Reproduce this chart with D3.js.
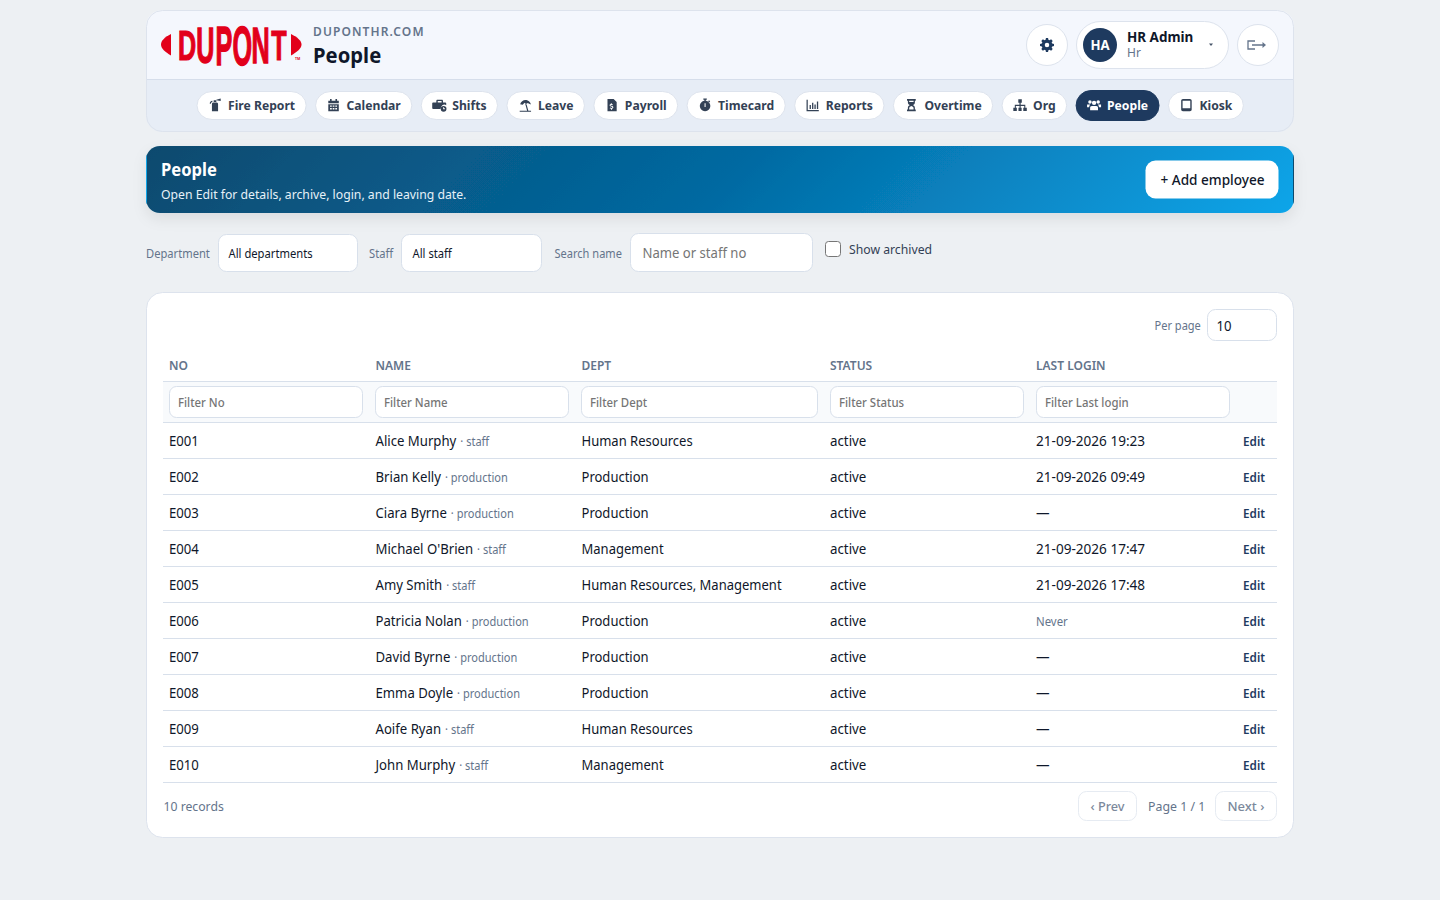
<!DOCTYPE html>
<html>
<head>
<meta charset="utf-8">
<title>People</title>
<script src="https://d3js.org/d3.v7.min.js"></script>
<style>
  html, body { margin: 0; padding: 0; background: #edf0f3; overflow: hidden; }
  svg { display: block; font-family: "Noto Sans", sans-serif; }
  text { white-space: pre; }
</style>
</head>
<body>
<svg id="page" width="1440" height="900"></svg>
<script>
const navLabels = ["Fire Report", "Calendar", "Shifts", "Leave", "Payroll", "Timecard", "Reports", "Overtime", "Org", "People", "Kiosk"];
const navActive = "People";

const columns = ["NO", "NAME", "DEPT", "STATUS", "LAST LOGIN"];
const filterLabels = ["Filter No", "Filter Name", "Filter Dept", "Filter Status", "Filter Last login"];

const empNo = ["E001", "E002", "E003", "E004", "E005", "E006", "E007", "E008", "E009", "E010"];
const empName = ["Alice Murphy", "Brian Kelly", "Ciara Byrne", "Michael O'Brien", "Amy Smith", "Patricia Nolan", "David Byrne", "Emma Doyle", "Aoife Ryan", "John Murphy"];
const empRole = ["staff", "production", "production", "staff", "staff", "production", "production", "production", "staff", "staff"];
const empDept = ["Human Resources", "Production", "Production", "Management", "Human Resources, Management", "Production", "Production", "Production", "Human Resources", "Management"];
const empStatus = ["active", "active", "active", "active", "active", "active", "active", "active", "active", "active"];
const empLogin = ["21-09-2026 19:23", "21-09-2026 09:49", "—", "21-09-2026 17:47", "21-09-2026 17:48", "Never", "—", "—", "—", "—"];

const svg = d3.select("#page");
const defs = svg.append("defs");

const navy = "#1e3a5f", ink = "#0f172a", slate = "#64748b", line = "#d8e0eb";

// small glyphs on a 16 box, rough stand-ins for the icon font
const icons = {
  "Fire Report": "M6 5h4c1 0 1.500 1 1.500 2v8h-7V7c0-1 .5-2 1.500-2zM6.500 2.500h3v2h-3zM9.500 2l5-1.500v3l-5-1zM5 3C3 3 2 4.500 2 6.500h1.300C3.300 5.300 4 4.500 5 4.500z",
  "Calendar": "M4 1h1.800v2H4zM10.200 1H12v2h-1.800zM2 3h12v3H2zM2 7h12v8H2zM4 8.500v1.500h2V8.500zM7 8.500v1.500h2V8.500zM10 8.500v1.500h2V8.500zM4 11.500V13h2v-1.500zM7 11.500V13h2v-1.500zM10 11.500V13h2v-1.500z",
  "Shifts": "M6 2h5c.8 0 1.300.6 1.300 1.300V5H15c.6 0 1 .4 1 1v2.200a4 4 0 0 0-6 4.300H1c-.6 0-1-.4-1-1V6c0-.6.4-1 1-1h3.700V3.300C4.700 2.600 5.200 2 6 2zM6.300 3.500V5h4.400V3.500zM13 9a3.300 3.300 0 1 1 0 6.600A3.300 3.300 0 0 1 13 9zm-.5 1.500v2.300h2v-1h-1v-1.300z",
  "Leave": "M2 14.500h13v1.300H2zM8.300 6.500l1.200-.4 2.400 8.400h-1.400zM2.500 7C3.500 3.500 7 1.500 10.500 2.500c2.500.7 4 2.800 4.300 5L11 5.800 9.500 7.500 7.500 5.300 5.500 7.800z",
  "Payroll": "M3 1h7l3.500 3.500V15H3zM6.800 6v.9C5.900 7.100 5.400 7.700 5.400 8.400c0 1.800 3.200 1.300 3.200 2.300 0 .4-.5.6-1 .6s-1.100-.2-1.500-.5l-.6 1c.5.3 1.100.5 1.500.6v.9h1.200v-.9c.9-.2 1.500-.9 1.500-1.700 0-1.900-3.200-1.400-3.200-2.300 0-.3.4-.5.9-.5.500 0 1 .2 1.300.4l.5-1c-.4-.3-.9-.4-1.300-.5V6z",
  "Timecard": "M6 .5h4V2H8.800v1.200A6 6 0 1 1 7.200 3.200V2H6zM12.500 2.700l1.300 1.300-1 1-1.300-1.300zM7.400 6v4.300h1.200V6z",
  "Reports": "M1 2h1.400v11.600H15V15H1zM4.500 8h1.500v4.500H4.500zM7.300 5.500h1.500v7H7.300zM10 7.500h1.500v5H10zM12.800 4h1.500v8.500h-1.500z",
  "Overtime": "M3 1h10v2h-1v2c0 1.700-1.200 2.500-2.300 3 1.100.5 2.300 1.300 2.300 3v2h1v2H3v-2h1v-2c0-1.700 1.200-2.500 2.300-3C5.200 7.500 4 6.700 4 5V3H3zM5.500 3v1.500h5V3zM8 9c-1.300.5-2.500 1.300-2.500 2.500V13h5v-1.500C10.500 10.300 9.300 9.500 8 9z",
  "Org": "M6 1.500h4v4H8.700v2.200H14V11h1.700v3.800h-4V11h1.100V9H8.700v2h1.100v3.800H6.200V11h1.200V9H3.200v2h1.100v3.800H.3V11H2V7.700h5.300V5.500H6z",
  "People": "M8 3a2.500 2.500 0 1 1 0 5 2.500 2.500 0 0 1 0-5zM3.300 2.500a2 2 0 1 1 0 4 2 2 0 0 1 0-4zM12.700 2.500a2 2 0 1 1 0 4 2 2 0 0 1 0-4zM5.500 9h5c1.300 0 2 1 2 2v3h-9v-3c0-1 .7-2 2-2zM0 7.500h3.700C3 8.200 2.400 9.500 2.400 10.500H0zM12.300 7.500H16v3h-2.400c0-1-.6-2.300-1.300-3z",
  "Kiosk": "M4 1h8c1.100 0 2 .9 2 2v10c0 1.100-.9 2-2 2H4c-1.100 0-2-.9-2-2V3c0-1.100.9-2 2-2zM3.600 3v8.800h8.800V3z",
  "gear": "M6.800 0h2.400l.4 2.100 1.300.6L12.700 1.500 14.500 3.300l-1.200 1.800.6 1.300L16 6.800v2.400l-2.100.4-.6 1.300 1.200 1.800-1.800 1.800-1.800-1.200-1.300.6-.4 2.100H6.800l-.4-2.100-1.300-.6-1.800 1.200L1.500 12.700l1.200-1.800-.6-1.300L0 9.200V6.800l2.100-.4.6-1.300L1.500 3.300 3.300 1.500l1.800 1.200 1.300-.6zM8 5.400a2.600 2.600 0 1 0 0 5.200 2.600 2.600 0 0 0 0-5.200z"
};

function drawIcon(g, name, x, y, size, color) {
  g.append("path")
    .attr("d", icons[name])
    .attr("fill", color)
    .attr("fill-rule", "evenodd")
    .attr("transform", `translate(${x},${y}) scale(${size / 16})`);
}

// opts.k squeezes the run horizontally, the page's own font is narrower than Noto
function label(g, str, x, y, opts = {}) {
  const t = g.append("text")
    .attr("x", x)
    .attr("y", y)
    .attr("font-size", opts.size || 14)
    .attr("font-weight", opts.weight || 400)
    .attr("fill", opts.color || ink)
    .attr("text-anchor", opts.anchor || "start")
    .attr("letter-spacing", opts.spacing || null)
    .text(str);
  const k = opts.k || 1;
  const w = t.node().getComputedTextLength();
  if (k !== 1) t.attr("textLength", w * k).attr("lengthAdjust", "spacingAndGlyphs");
  t.property("fitW", w * k);
  return t;
}

function box(g, x, y, w, h, r, fill, stroke) {
  return g.append("rect")
    .attr("x", x + 0.5)
    .attr("y", y + 0.5)
    .attr("width", w - 1)
    .attr("height", h - 1)
    .attr("rx", r)
    .attr("fill", fill)
    .attr("stroke", stroke || "none");
}

// ---- header card
const header = svg.append("g");
defs.append("clipPath").attr("id", "head-clip")
  .append("rect").attr("x", 146).attr("y", 10).attr("width", 1148).attr("height", 122).attr("rx", 16);
const headInner = header.append("g").attr("clip-path", "url(#head-clip)");
headInner.append("rect").attr("x", 146).attr("y", 10).attr("width", 1148).attr("height", 70).attr("fill", "#f4f7fd");
headInner.append("rect").attr("x", 146).attr("y", 80).attr("width", 1148).attr("height", 52).attr("fill", "#e7edf6");
headInner.append("rect").attr("x", 146).attr("y", 79).attr("width", 1148).attr("height", 1).attr("fill", "#d6deeb");
box(header, 146, 10, 1148, 122, 16, "none", "#dde3ed");

// logo
const logoRed = "#e2001a";
const logo = header.append("g");
logo.append("path").attr("d", "M171 34 L171 55.500 C165 52 161 48.500 161 44.500 C161 40.500 165 37 171 34 Z").attr("fill", logoRed);
logo.append("path").attr("d", "M291 34 L291 55.500 C297 52 301.500 48.500 301.500 44.500 C301.500 40.500 297 37 291 34 Z").attr("fill", logoRed);
const logoLetters = ["D", "U", "P", "O", "N", "T"];
const logoX = d3.scalePoint().domain(logoLetters).range([187, 279]);
const logoT = d3.scalePoint().domain(logoLetters).range([-0.5, 0.5]);
logoLetters.forEach(ch => {
  const t = logoT(ch);
  const sy = 1.5 - t * t * 1.5;
  logo.append("text")
    .attr("transform", `translate(${logoX(ch)},45) scale(0.68,${sy})`)
    .attr("y", 13.3)
    .attr("text-anchor", "middle")
    .attr("font-family", "'Liberation Sans Narrow', 'Liberation Sans', sans-serif")
    .attr("font-size", 37)
    .attr("font-weight", 700)
    .attr("fill", logoRed)
    .attr("stroke", logoRed)
    .attr("stroke-width", 1)
    .text(ch);
});
label(logo, "TM", 295, 60, { size: 3.500, weight: 700, color: logoRed });

label(header, "DUPONTHR.COM", 313, 36, { size: 12, weight: 600, color: slate, spacing: "1.1px" });
label(header, "People", 313, 63, { size: 22, weight: 700, color: ink, k: 0.92 });

// settings, user chip, logout
header.append("circle").attr("cx", 1047).attr("cy", 45).attr("r", 20.500).attr("fill", "#fff").attr("stroke", "#dde3ed");
drawIcon(header, "gear", 1040, 38, 14, navy);
box(header, 1076, 21, 153, 48, 24, "#fff", "#dde3ed");
header.append("circle").attr("cx", 1100).attr("cy", 45).attr("r", 17).attr("fill", navy);
label(header, "HA", 1100, 50, { size: 14, weight: 700, color: "#fff", anchor: "middle", k: 0.94 });
label(header, "HR Admin", 1127, 42, { size: 14, weight: 700, color: ink, k: 0.96 });
label(header, "Hr", 1127, 57, { size: 12, color: slate });
header.append("path").attr("d", "M1209 43.500h4l-2 2.500z").attr("fill", "#475569");
header.append("circle").attr("cx", 1258).attr("cy", 45).attr("r", 20.500).attr("fill", "#fff").attr("stroke", "#dde3ed");
header.append("path").attr("d", "M1255 41h-7v8h7M1252 45h11").attr("fill", "none").attr("stroke", slate).attr("stroke-width", 1.300);
header.append("path").attr("d", "M1262.500 42l3.500 3-3.500 3z").attr("fill", slate);

// nav pills, laid out from the measured label widths
const nav = header.append("g");
const pillGap = 8.4;
const pills = navLabels.map(name => {
  const g = nav.append("g");
  const active = name === navActive;
  const t = label(g, name, 0, 110, { size: 13, weight: 700, color: active ? "#fff" : "#334155", k: 0.935 });
  return { name, g, t, active, w: t.property("fitW") + 43 };
});
let pillX = 196.5;
pills.forEach(p => {
  p.g.insert("rect", "text")
    .attr("x", pillX + 0.5).attr("y", p.active ? 90.5 : 91.5)
    .attr("width", p.w - 1).attr("height", p.active ? 30 : 28)
    .attr("rx", 15)
    .attr("fill", p.active ? navy : "#fff")
    .attr("stroke", p.active ? navy : "#dde3ed");
  drawIcon(p.g, p.name, pillX + 11.5, 98, 14, p.active ? "#fff" : "#334155");
  p.t.attr("x", pillX + 31.5);
  pillX += p.w + pillGap;
});

// ---- banner
const grad = defs.append("linearGradient").attr("id", "banner-grad").attr("gradientUnits", "userSpaceOnUse")
  .attr("x1", 417).attr("y1", -123).attr("x2", 1023).attr("y2", 483);
grad.append("stop").attr("offset", "0%").attr("stop-color", "#0c4a6e");
grad.append("stop").attr("offset", "50%").attr("stop-color", "#0369a1");
grad.append("stop").attr("offset", "100%").attr("stop-color", "#0ea5e9");
const shadow = defs.append("filter").attr("id", "banner-shadow").attr("x", "-5%").attr("y", "-30%").attr("width", "110%").attr("height", "170%");
shadow.append("feDropShadow").attr("dx", 0).attr("dy", 6).attr("stdDeviation", 7).attr("flood-color", "#0f172a").attr("flood-opacity", 0.08);
defs.append("clipPath").attr("id", "banner-clip")
  .append("rect").attr("x", 146).attr("y", 146).attr("width", 1148).attr("height", 67).attr("rx", 14);

const banner = svg.append("g");
banner.append("rect").attr("x", 146).attr("y", 146).attr("width", 1148).attr("height", 67).attr("rx", 14)
  .attr("fill", "url(#banner-grad)").attr("filter", "url(#banner-shadow)");
const bannerEdge = banner.append("g").attr("clip-path", "url(#banner-clip)");
bannerEdge.append("rect").attr("x", 146).attr("y", 146).attr("width", 1).attr("height", 67).attr("fill", "#0ea5e9");
bannerEdge.append("rect").attr("x", 1293).attr("y", 146).attr("width", 1).attr("height", 67).attr("fill", "#0c4a6e");
label(banner, "People", 161, 176, { size: 18, weight: 700, color: "#fff", k: 0.92 });
label(banner, "Open Edit for details, archive, login, and leaving date.", 161, 199, { size: 13, color: "#e6f1f8", k: 0.94 });
box(banner, 1145, 160, 134, 39, 10, "#fff");
label(banner, "+ Add employee", 1212.5, 185, { size: 14, weight: 500, color: ink, anchor: "middle", k: 0.97 });

// ---- filter bar
const bar = svg.append("g");
label(bar, "Department", 146, 258, { size: 12, color: slate, k: 0.93 });
box(bar, 218, 234, 140, 38, 8, "#fff", line);
label(bar, "All departments", 228.500, 258, { size: 12, color: ink, k: 0.935 });
label(bar, "Staff", 369, 258, { size: 12, color: slate, k: 0.93 });
box(bar, 401, 234, 141, 38, 8, "#fff", line);
label(bar, "All staff", 412.500, 258, { size: 12, color: ink, k: 0.935 });
label(bar, "Search name", 554.500, 258, { size: 12, color: slate, k: 0.92 });
box(bar, 630, 233, 183, 39, 8, "#fff", line);
label(bar, "Name or staff no", 642.500, 258, { size: 13.500, color: "#757575", k: 0.97 });
box(bar, 825, 241, 16, 16, 3, "#fff", "#767676");
label(bar, "Show archived", 849, 254, { size: 13, color: "#334155", k: 0.94 });

// ---- table card
const card = svg.append("g");
box(card, 146, 292, 1148, 546, 16, "#fff", "#dde3ed");
label(card, "Per page", 1154.500, 330, { size: 12, color: slate, k: 0.92 });
box(card, 1207, 309, 70, 32, 8, "#fff", line);
label(card, "10", 1216.500, 331, { size: 14, color: ink, k: 0.94 });

const tableLeft = 163, tableRight = 1277;
const colX = d3.scaleOrdinal().domain(columns).range([169, 375.5, 581.5, 830, 1036]);
const filterW = d3.scaleOrdinal().domain(columns).range([194, 194, 237, 194, 194]);

// column heads + filter row
card.append("rect").attr("x", tableLeft).attr("y", 382).attr("width", tableRight - tableLeft).attr("height", 40).attr("fill", "#f8fafc");
card.append("rect").attr("x", tableLeft).attr("y", 381).attr("width", tableRight - tableLeft).attr("height", 1).attr("fill", line);

card.selectAll(".head").data(columns).join("text")
  .attr("class", "head")
  .attr("x", d => colX(d)).attr("y", 370)
  .attr("font-size", 12).attr("font-weight", 600).attr("fill", slate)
  .text(d => d);

columns.forEach((c, i) => {
  box(card, Math.floor(colX(c)), 386, filterW(c), 32, 7, "#fff", line);
  label(card, filterLabels[i], Math.floor(colX(c)) + 9, 407, { size: 12, weight: 500, color: "#757575", k: 0.95 });
});

const rowY = d3.scaleBand().domain(empNo).range([423, 783]);

const rows = card.selectAll(".row").data(empNo).join("g")
  .attr("class", "row")
  .attr("transform", d => `translate(0,${rowY(d)})`);

rows.append("rect")
  .attr("x", tableLeft).attr("y", -1)
  .attr("width", tableRight - tableLeft).attr("height", 1)
  .attr("fill", line);

rows.each(function (no, i) {
  const r = d3.select(this);
  const base = 23;
  label(r, no, colX("NO"), base, { k: 0.94 });
  const n = label(r, empName[i], colX("NAME"), base, { k: 0.94 });
  label(r, "· " + empRole[i], colX("NAME") + n.property("fitW") + 4, base, { size: 12, color: slate, k: 0.92 });
  label(r, empDept[i], colX("DEPT"), base, { k: 0.93 });
  label(r, empStatus[i], colX("STATUS"), base, { k: 0.95 });
  if (empLogin[i] === "Never") label(r, empLogin[i], colX("LAST LOGIN"), base, { size: 12, color: slate, k: 0.95 });
  else label(r, empLogin[i], colX("LAST LOGIN"), base, { k: 0.97 });
  label(r, "Edit", 1265, base, { size: 13, weight: 600, color: navy, anchor: "end", k: 0.9 });
});
card.append("rect").attr("x", tableLeft).attr("y", 782).attr("width", tableRight - tableLeft).attr("height", 1).attr("fill", line);

// ---- pager
label(card, "10 records", 163.500, 811, { size: 13, color: slate, k: 0.94 });
box(card, 1078, 791, 59, 30, 8, "#fff", "#e6ebf2");
label(card, "‹ Prev", 1107.500, 811, { size: 13, weight: 500, color: "#7c899c", anchor: "middle", k: 0.98 });
label(card, "Page 1 / 1", 1148, 811, { size: 13, color: slate, k: 0.95 });
box(card, 1215, 791, 62, 30, 8, "#fff", "#e6ebf2");
label(card, "Next ›", 1246, 811, { size: 13, weight: 500, color: "#7c899c", anchor: "middle" });
</script>
</body>
</html>
